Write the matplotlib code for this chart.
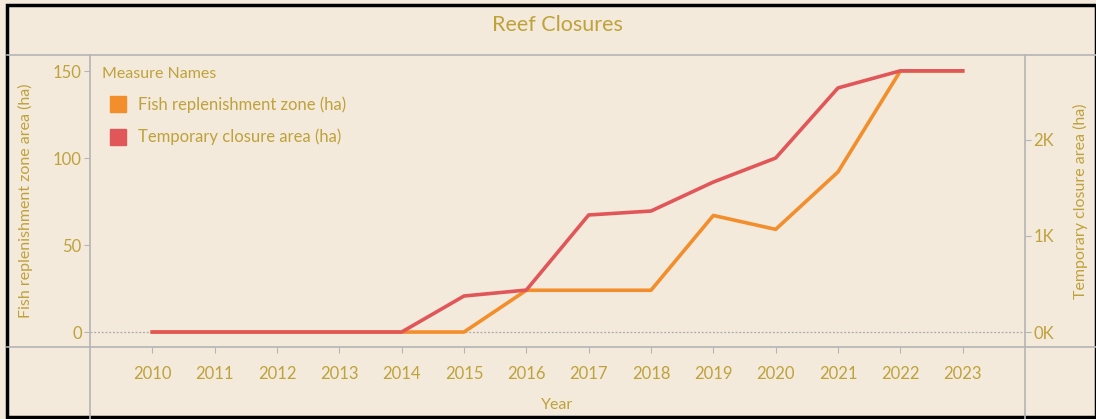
import matplotlib
matplotlib.use("Agg")
import matplotlib.pyplot as plt
from matplotlib.lines import Line2D
from matplotlib.ticker import FuncFormatter

years = [2010, 2011, 2012, 2013, 2014, 2015, 2016, 2017, 2018, 2019, 2020, 2021, 2022, 2023]
fish_zone = [0, 0, 0, 0, 0, 0, 24, 24, 24, 67, 59, 92, 150, 150]
temp_closure = [0, 0, 0, 0, 0, 375, 437, 1219, 1260, 1562, 1812, 2542, 2720, 2720]

bg = '#F3EADC'
gold = '#BFA23A'
orange = '#F28E2B'
red = '#E15759'
grid_gray = '#B5B5B5'

plt.rcParams['font.family'] = ['Lato', 'DejaVu Sans']

fig = plt.figure(figsize=(10.96, 4.19), dpi=100, facecolor=bg)
W, H = 1096, 419
ax = fig.add_axes([90 / W, 1 - 347 / H, (1025 - 90) / W, (347 - 55) / H])
ax.set_facecolor(bg)
ax2 = ax.twinx()

ax.plot(years, fish_zone, color=orange, lw=2.6, label='Fish replenishment zone (ha)', zorder=3)
ax2.plot(years, temp_closure, color=red, lw=2.6, label='Temporary closure area (ha)', zorder=4)

ax.set_xlim(2009, 2024)
ax.set_ylim(-8.6, 159.2)
ax2.set_ylim(-156, 2885)
ax.axhline(0, color='#AAAAAA', lw=0.9, ls=(0, (1.5, 1.5)), zorder=1)

ax.set_xticks(years)
ax.set_yticks([0, 50, 100, 150])
ax2.set_yticks([0, 1000, 2000])
ax2.yaxis.set_major_formatter(FuncFormatter(lambda v, p: f'{int(v / 1000)}K'))

for a in (ax, ax2):
    for s in a.spines.values():
        s.set_visible(False)
    a.tick_params(colors=grid_gray, labelcolor=gold, labelsize=12, length=4, width=0.8)
ax.tick_params(axis='x', pad=10)
ax.tick_params(axis='y', pad=2)
ax2.tick_params(axis='y', pad=2)

ax.set_xlabel('Year', color=gold, fontsize=11.5, labelpad=11)
ax.set_ylabel('Fish replenishment zone area (ha)', color=gold, fontsize=11.5, labelpad=14)
ax2.set_ylabel('Temporary closure area (ha)', color=gold, fontsize=11.5, labelpad=14)

fig.text(0.509, 1 - 25 / H, 'Reef Closures', color=gold, fontsize=15.5,
         ha='center', va='center', fontstretch='condensed')

handles = [Line2D([], [], marker='s', ls='none', color=orange, markersize=11),
           Line2D([], [], marker='s', ls='none', color=red, markersize=11)]
leg = ax.legend(handles, ['Fish replenishment zone (ha)', 'Temporary closure area (ha)'],
                title='Measure Names', loc='upper left', frameon=False,
                fontsize=12, title_fontsize=11.5, labelcolor=gold, handletextpad=0.2,
                borderaxespad=0.0, labelspacing=0.95, borderpad=0.7,
                bbox_to_anchor=(0.0, 1.0))
leg.get_title().set_color(gold)
leg._legend_box.align = 'left'

# pane divider lines
lines = [
    ([7 / W, 1], [1 - 55 / H, 1 - 55 / H]),
    ([7 / W, 1], [1 - 347 / H, 1 - 347 / H]),
    ([90 / W, 90 / W], [0, 1 - 55 / H]),
    ([1025 / W, 1025 / W], [0, 1 - 55 / H]),
]
for xs, ys in lines:
    fig.add_artist(Line2D(xs, ys, color=grid_gray, lw=1.2, transform=fig.transFigure))

# outer black frame
fig.add_artist(plt.Rectangle((7 / W, 2 / H), 1 - 7 / W, 1 - 7 / H, fill=False,
                             edgecolor='black', lw=2.5, transform=fig.transFigure))

fig.savefig('out.png', dpi=100, facecolor=bg)
